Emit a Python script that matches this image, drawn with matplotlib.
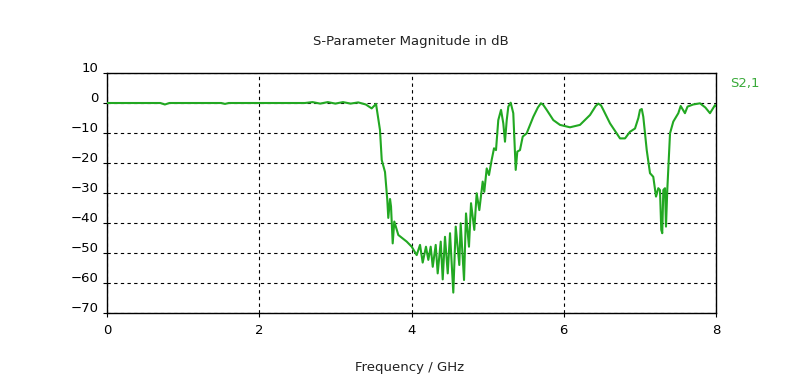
import matplotlib
matplotlib.use("Agg")
import matplotlib.pyplot as plt
import matplotlib.transforms as mtransforms

# Frequency (GHz) and S21 magnitude (dB)
freq = [0.0, 0.70, 0.76, 0.82, 1.50, 1.55, 1.60, 2.60, 2.70, 2.80, 2.90, 3.00,
        3.10, 3.20, 3.30, 3.40, 3.477, 3.534, 3.586, 3.609, 3.652, 3.682, 3.695,
        3.718, 3.731, 3.753, 3.774, 3.827, 3.937, 4.003, 4.068, 4.112, 4.147,
        4.190, 4.221, 4.252, 4.279, 4.318, 4.344, 4.384, 4.410, 4.440, 4.476,
        4.506, 4.549, 4.581, 4.628, 4.646, 4.690, 4.716, 4.755, 4.782, 4.825,
        4.856, 4.891, 4.935, 4.956, 4.988, 5.018, 5.053, 5.084, 5.110, 5.140,
        5.176, 5.206, 5.228, 5.251, 5.272, 5.303, 5.337, 5.369, 5.390, 5.425,
        5.461, 5.513, 5.600, 5.660, 5.700, 5.730, 5.776, 5.863, 5.951, 6.082,
        6.213, 6.345, 6.420, 6.454, 6.490, 6.520, 6.608, 6.739, 6.805, 6.870,
        6.936, 6.980, 7.002, 7.025, 7.045, 7.090, 7.133, 7.176, 7.212, 7.242,
        7.264, 7.281, 7.294, 7.308, 7.330, 7.343, 7.360, 7.396, 7.439, 7.505,
        7.536, 7.592, 7.626, 7.700, 7.790, 7.860, 7.921, 7.987, 8.0]
s21 = [0.0, 0.0, -0.5, 0.0, 0.0, -0.3, 0.0, 0.0, 0.3, -0.2, 0.3, -0.2,
       0.3, -0.2, 0.2, -0.5, -1.8, -0.3, -9.0, -19.0, -23.0, -32.3, -38.3,
       -32.0, -34.5, -46.8, -39.5, -44.0, -46.2, -47.9, -50.7, -47.3, -53.2,
       -47.9, -52.3, -47.9, -54.6, -47.3, -56.8, -46.2, -58.8, -44.6, -56.8,
       -43.4, -63.2, -41.2, -54.0, -40.1, -59.0, -36.8, -47.9, -33.4, -42.3,
       -30.1, -35.7, -26.2, -29.6, -21.8, -24.0, -19.0, -15.1, -15.7, -5.7,
       -2.3, -6.8, -12.9, -5.7, -1.2, 0.1, -3.4, -22.3, -16.2, -15.7,
       -11.2, -10.1, -4.6, -1.5, -0.1, -0.6, -2.3, -5.7, -7.3, -8.1,
       -7.3, -4.0, -1.0, -0.2, -0.8, -2.3, -6.8, -11.8, -11.8, -9.6,
       -8.5, -5.0, -2.3, -2.0, -4.6, -15.7, -23.4, -24.6, -31.2, -28.4,
       -29.0, -42.3, -43.4, -29.0, -28.4, -41.2, -29.0, -10.1, -6.2, -3.4,
       -1.0, -3.4, -1.2, -0.5, -0.1, -1.5, -3.4, -0.7, -1.0]

x_ticks = [0, 2, 4, 6, 8]
y_ticks = [10, 0, -10, -20, -30, -40, -50, -60, -70]

fig = plt.figure(figsize=(7.95, 3.86), dpi=100)
ax = fig.add_axes([107/795, 1-313/386, (716-107)/795, (313-73)/386])

ax.plot(freq, s21, color='#22a822', linewidth=1.5, zorder=3)

ax.set_xlim(0, 8)
ax.set_ylim(-70, 10)
ax.set_xticks(x_ticks)
ax.set_yticks(y_ticks)
ax.grid(True, color='black', linestyle=(0, (3, 3)), linewidth=0.8)
ax.tick_params(direction='out', length=3, width=0.8, labelsize=9.5,
               colors='black', pad=3)
ax.tick_params(axis='x', pad=5)
for s in ax.spines.values():
    s.set_linewidth(1.0)
    s.set_color('black')

offset = mtransforms.ScaledTranslation(0, 4/72, fig.dpi_scale_trans)
for lbl in ax.get_yticklabels():
    lbl.set_transform(lbl.get_transform() + offset)

fig.text(411/795, 1-42/386, 'S-Parameter Magnitude in dB', ha='center',
         va='center', fontsize=9.5, color='#222222')
fig.text(410/795, 1-367/386, 'Frequency / GHz', ha='center', va='center',
         fontsize=9.5, color='#222222')
fig.text(730/795, 1-83/386, 'S2,1', ha='left', va='center', fontsize=9.5,
         color='#3aaa3a')

fig.savefig('out.png', dpi=100)
